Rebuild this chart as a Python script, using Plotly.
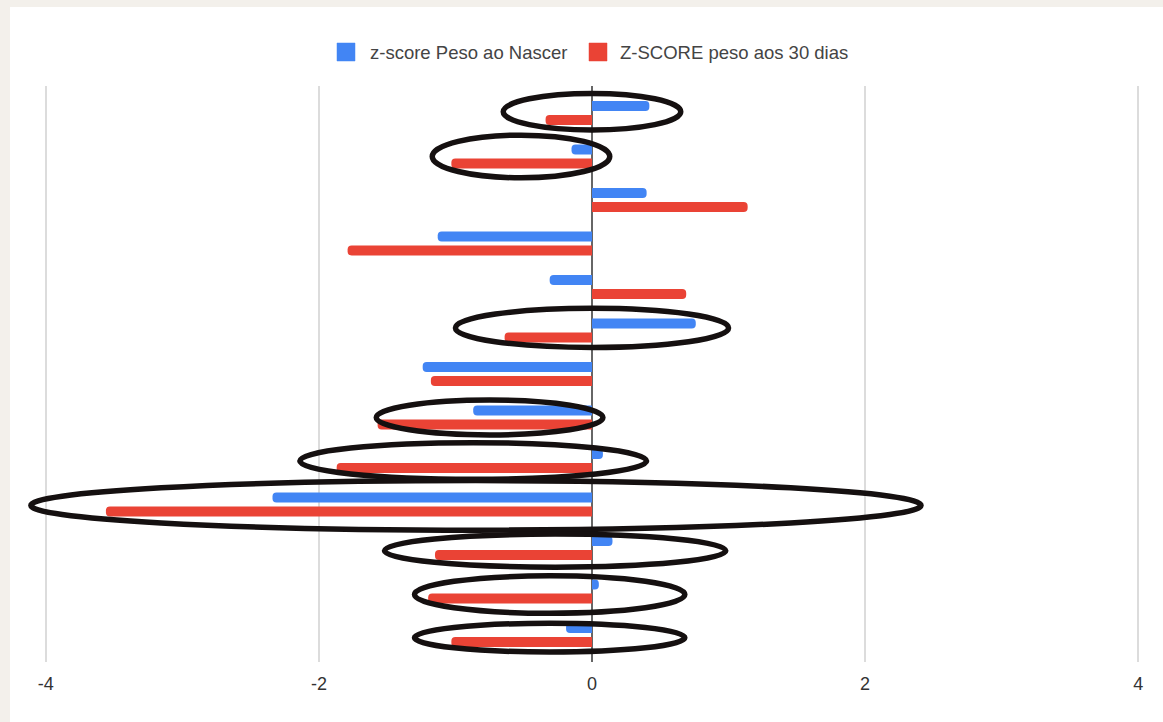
import plotly.graph_objects as go

# Z-scores per infant (top to bottom)
rows = [f"RN{i}" for i in range(1, 14)]
z_birth = [0.42, -0.15, 0.40, -1.13, -0.31, 0.76, -1.24, -0.87, 0.08, -2.34, 0.15, 0.05, -0.19]
z_30days = [-0.34, -1.03, 1.14, -1.79, 0.69, -0.64, -1.18, -1.57, -1.87, -3.56, -1.15, -1.20, -1.03]

series_names = ["z-score Peso ao Nascer", "Z-SCORE peso aos 30 dias"]
colors = ["#4285F4", "#EA4335"]

x_ticks = [-4, -2, 0, 2, 4]
x_tick_text = ["-4", "-2", "0", "2", "4"]

# Highlight rings: (row index, x from, x to, vertical offset, half height in rows)
highlights = [
    (0, -0.65, 0.65, -0.03, 0.42),
    (1, -1.17, 0.13, 0.00, 0.49),
    (5, -1.00, 1.00, -0.06, 0.45),
    (7, -1.58, 0.08, 0.00, 0.40),
    (8, -2.14, 0.40, 0.00, 0.42),
    (9, -4.11, 2.41, 0.02, 0.57),
    (10, -1.52, 0.98, 0.06, 0.38),
    (11, -1.30, 0.68, 0.07, 0.43),
    (12, -1.30, 0.68, 0.06, 0.33),
]

W, H = 1163, 722
ml, mr, mt, mb = 24, 3, 86, 60
pw, ph = W - ml - mr, H - mt - mb


def px_to_paper_x(px):
    return (px - ml) / pw


def px_to_paper_y(py):
    return (H - mb - py) / ph


fig = go.Figure()
for name, vals, col in zip(series_names, [z_birth, z_30days], colors):
    fig.add_trace(go.Bar(
        y=rows, x=vals, orientation="h", name=name,
        marker=dict(color=col, cornerradius=4, line=dict(width=0)),
        showlegend=False,
    ))

shapes = []
for idx, x0, x1, dy, h in highlights:
    shapes.append(dict(
        type="circle", xref="x", yref="y",
        x0=x0, x1=x1, y0=idx + dy - h, y1=idx + dy + h,
        line=dict(color="#151010", width=5.5),
        fillcolor="rgba(0,0,0,0)", layer="above",
    ))

# beige frame along top and left edges
for (a, b, c, d) in [(0, 0, W, 7), (0, 0, 10, H)]:
    shapes.append(dict(
        type="rect", xref="paper", yref="paper",
        x0=px_to_paper_x(a), x1=px_to_paper_x(c),
        y0=px_to_paper_y(d), y1=px_to_paper_y(b),
        fillcolor="#F3F0EB", line=dict(width=0), layer="below",
    ))

# legend row: swatch + label for each series
annotations = []
legend_items = [(337, 368), (589, 618)]
for (sw_x, tx_x), name, col in zip(legend_items, series_names, colors):
    shapes.append(dict(
        type="rect", xref="paper", yref="paper",
        x0=px_to_paper_x(sw_x), x1=px_to_paper_x(sw_x + 18),
        y0=px_to_paper_y(61), y1=px_to_paper_y(43),
        fillcolor=col, line=dict(color=col, width=0.5), layer="above",
    ))
    annotations.append(dict(
        xref="paper", yref="paper", x=px_to_paper_x(tx_x), y=px_to_paper_y(52),
        xanchor="left", yanchor="middle", text=name, showarrow=False,
        font=dict(size=18.5, color="#444444"),
    ))

fig.update_layout(
    width=W, height=H,
    margin=dict(l=ml, r=mr, t=mt, b=mb),
    paper_bgcolor="white", plot_bgcolor="white",
    barmode="group", bargap=0.355, bargroupgap=0.29,
    font=dict(family="Liberation Sans, Arial, sans-serif", color="#444444"),
    showlegend=False,
    shapes=shapes, annotations=annotations,
    xaxis=dict(
        range=[-4.16, 4.16], tickvals=x_ticks, ticktext=x_tick_text,
        showgrid=True, gridcolor="#DCDCDC", gridwidth=1.5,
        zeroline=True, zerolinecolor="#666666", zerolinewidth=1.5,
        showline=False, ticks="outside", ticklen=5, tickcolor="rgba(0,0,0,0)",
        tickfont=dict(size=18, color="#333333"),
    ),
    yaxis=dict(
        type="category", categoryorder="array", categoryarray=rows,
        range=[12.62, -0.62], showticklabels=False, showgrid=False,
        zeroline=False, showline=False, ticks="",
    ),
)

fig.write_html("out.html")
